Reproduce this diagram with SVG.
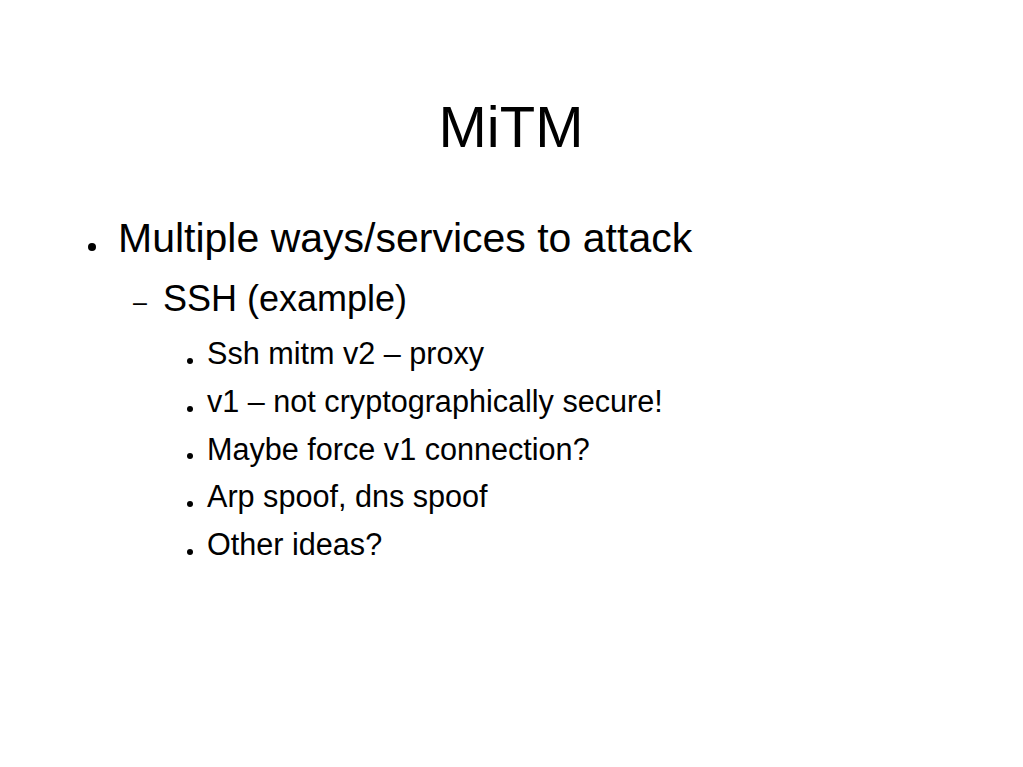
<svg xmlns="http://www.w3.org/2000/svg" width="1023" height="767" viewBox="0 0 1023 767">
<style>
text{font-family:"Liberation Sans",Arial,sans-serif;fill:#000}
.t{font-size:58px}
.l1{font-size:41px}
.l2{font-size:36px}
.l3{font-size:30.6px}
</style>
<rect width="1023" height="767" fill="#fff"/>
<text class="t" x="511" y="147" text-anchor="middle">MiTM</text>
<circle cx="92" cy="247" r="4"/>
<text class="l1" x="118" y="252">Multiple ways/services to attack</text>
<text x="133" y="311" style="font-size:25px">–</text>
<text class="l2" x="163" y="311">SSH (example)</text>
<g>
<circle cx="190" cy="361" r="3"/>
<text class="l3" x="207" y="364">Ssh mitm v2 – proxy</text>
<circle cx="190" cy="409" r="3"/>
<text class="l3" x="207" y="412">v1 – not cryptographically secure!</text>
<circle cx="190" cy="456" r="3"/>
<text class="l3" x="207" y="460">Maybe force v1 connection?</text>
<circle cx="190" cy="504" r="3"/>
<text class="l3" x="207" y="507">Arp spoof, dns spoof</text>
<circle cx="190" cy="552" r="3"/>
<text class="l3" x="207" y="555">Other ideas?</text>
</g>
</svg>
